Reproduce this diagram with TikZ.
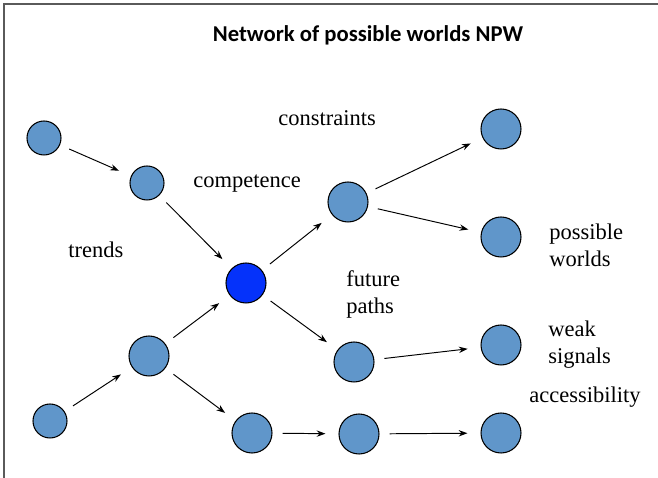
\documentclass[tikz,border=0pt]{standalone}
\usepackage{fontspec}
\setmainfont{Liberation Serif}
\newfontfamily\headfont{Carlito}
\newfontfamily\labelfont{Liberation Serif}
\usetikzlibrary{arrows.meta}
\definecolor{worldfill}{RGB}{96,150,202}
\definecolor{nowfill}{RGB}{5,50,250}
\definecolor{framegray}{RGB}{90,90,90}
\begin{document}
\begin{tikzpicture}[
		world/.style={circle,draw=black,line width=0.6pt,fill=worldfill,minimum size=0.80cm,inner sep=0pt},
		small/.style={minimum size=0.68cm},
		path/.style={-{Stealth[length=5pt,width=3.6pt]},line width=0.55pt,shorten <=0.2cm,shorten >=0.26cm},
		lbl/.style={anchor=base west,inner sep=0pt,align=left,font=\labelfont\fontsize{12.8}{15.4}\selectfont}
	]
	\useasboundingbox (0,0) rectangle (13.16,9.56);
	% frame
	\draw[framegray,line width=0.9pt] (0.08,0) -- (0.08,9.48) -- (13.16,9.48);
	\node[anchor=base,inner sep=0pt,font=\headfont\bfseries\fontsize{12.9}{15}\selectfont] (title) at (7.36,8.72) {Network of possible worlds NPW};
	% worlds
	\node[world,small] (p1) at (0.88,6.80) {};
	\node[world,small] (p2) at (2.94,5.90) {};
	\node[world,small] (q1) at (1.00,1.14) {};
	\node[world] (q2) at (2.98,2.44) {};
	\node[world,fill=nowfill] (now) at (4.92,3.90) {};
	\node[world] (f1) at (6.96,5.52) {};
	\node[world] (f2) at (7.08,2.32) {};
	\node[world] (w1) at (10.02,6.98) {};
	\node[world] (w2) at (10.02,4.82) {};
	\node[world] (w3) at (10.02,2.66) {};
	\node[world] (b1) at (5.04,0.90) {};
	\node[world] (b2) at (7.18,0.88) {};
	\node[world] (b3) at (10.02,0.90) {};
	% transitions
	\draw[path] (p1) -- (p2);
	\draw[path] (p2) -- (now);
	\draw[path] (q1) -- (q2);
	\draw[path] (q2) -- (now);
	\draw[path] (q2) -- (b1);
	\draw[path] (now) -- (f1);
	\draw[path] (now) -- (f2);
	\draw[path] (f1) -- (w1);
	\draw[path] (f1) -- (w2);
	\draw[path] (f2) -- (w3);
	\draw[path] (b1) -- (b2);
	\draw[path] (b2) -- (b3);
	% labels (base sits on the last line)
	\node[lbl] (constraints) at (5.56,7.04) {constraints};
	\node[lbl] (competence) at (3.86,5.80) {competence};
	\node[lbl] (trends) at (1.36,4.40) {trends};
	\node[lbl] (future) at (6.92,3.28) {future\\paths};
	\node[lbl] (possible) at (10.98,4.22) {possible\\worlds};
	\node[lbl] (weak) at (10.96,2.28) {weak\\signals};
	\node[lbl] (access) at (10.58,1.50) {accessibility};
\end{tikzpicture}
\end{document}
